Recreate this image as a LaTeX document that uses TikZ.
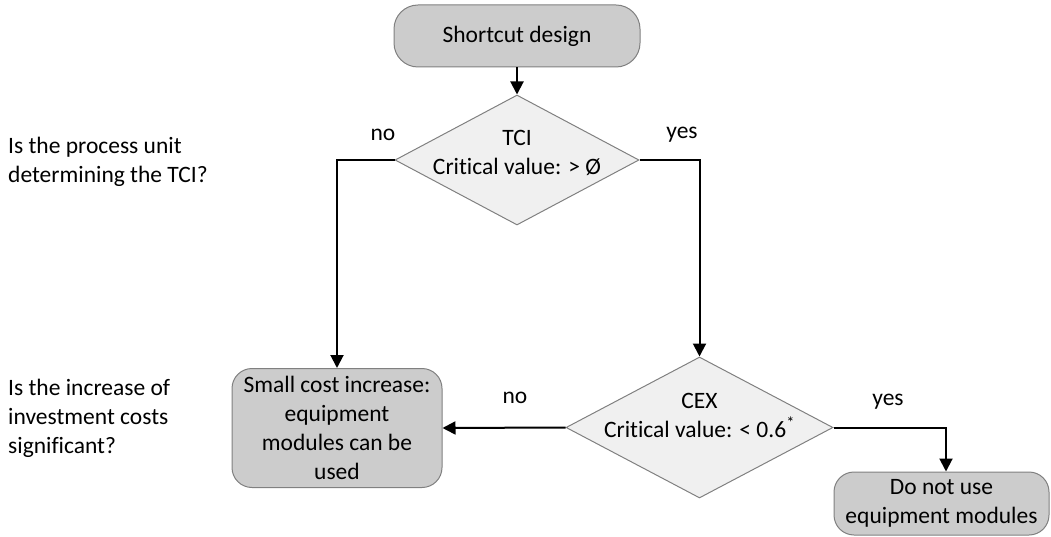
\documentclass[tikz,border=0pt]{standalone}
\usepackage{fontspec}
\setmainfont[Ligatures={NoCommon}]{Carlito}
\usetikzlibrary{shapes.geometric,arrows.meta}
\begin{document}
\begin{tikzpicture}[x=1pt,y=1pt,
  every node/.style={font=\fontsize{23.5}{29}\selectfont, inner sep=0pt},
  roundbox/.style={draw=black!50, line width=1pt, fill=black!20, rounded corners=20pt, align=center},
  decision/.style={draw=black!50, line width=1pt, fill=black!6, shape=diamond},
  conn/.style={line width=2pt, -{Triangle[width=13pt,length=13pt]}},
  lbl/.style={align=center},
  question/.style={align=left, anchor=west}
]
\useasboundingbox (0,0) rectangle (1051,-537);
% nodes
\node[roundbox, minimum width=246, minimum height=62, rounded corners=24pt] (start) at (517,-36) {Shortcut design};
\node[decision, minimum width=244, minimum height=130] (tci) at (517,-160) {};
\node[lbl] (tcitext) at (517,-153) {TCI\\Critical value: > Ø};
\node[decision, minimum width=267, minimum height=141] (cex) at (699.5,-427.5) {};
\node[lbl] (cextext) at (699.5,-415) {CEX\\Critical value: < 0.6\textsuperscript{*}};
\node[roundbox, minimum width=210, minimum height=119] (small) at (337,-428) {Small cost increase:\\equipment\\modules can be\\used};
\node[roundbox, minimum width=215, minimum height=63] (done) at (941.5,-503.5) {Do not use\\equipment modules};
% side questions
\node[question] (q1) at (8,-162) {Is the process unit\\determining the TCI?};
\node[question] (q2) at (8,-418) {Is the increase of\\investment costs\\significant?};
% connectors
\draw[conn] (start.south) -- (tci.north);
\draw[conn] (tci.west) -| (small.north);
\draw[conn] (tci.east) -| (cex.north);
\draw[conn] (cex.west) -- (small.east);
\draw[conn] (cex.east) -| ([xshift=4.5pt]done.north);
% labels
\node (no1) at (383,-135) {no};
\node (yes1) at (682,-135) {yes};
\node (no2) at (515,-398) {no};
\node (yes2) at (888,-402) {yes};
\end{tikzpicture}
\end{document}
